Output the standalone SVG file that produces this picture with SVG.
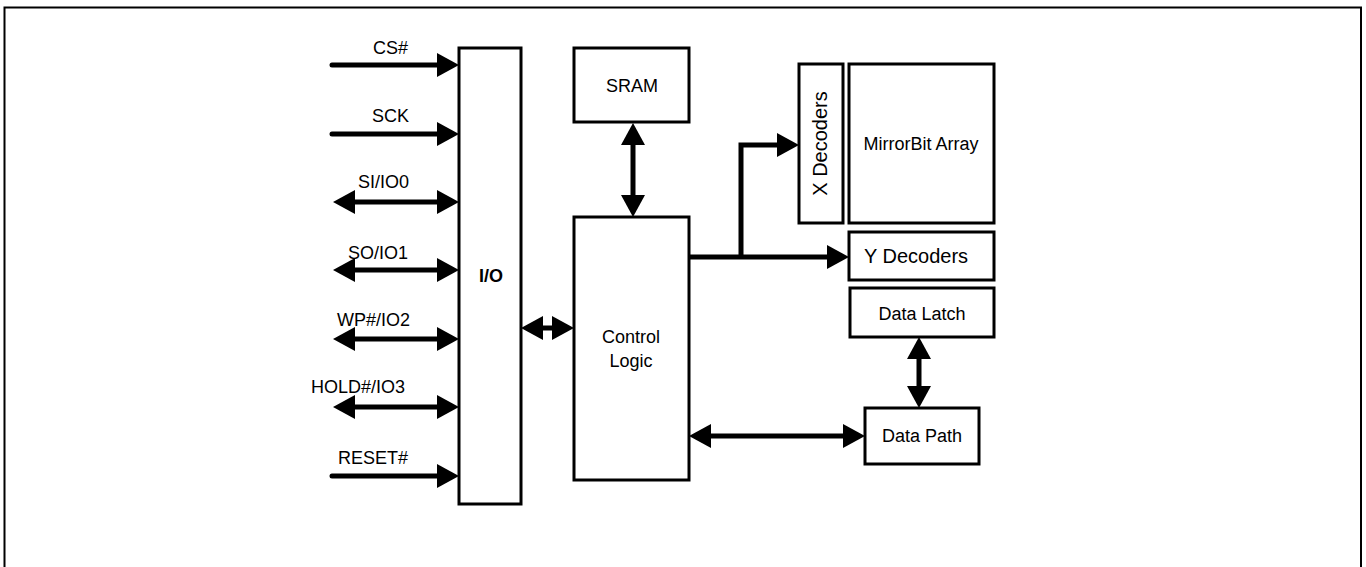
<svg xmlns="http://www.w3.org/2000/svg" width="1366" height="567" viewBox="0 0 1366 567">
<style>
.box{fill:#fff;stroke:#000;stroke-width:3}
.t{font-family:"Liberation Sans",Arial,sans-serif;font-size:18px;fill:#000}
.m{text-anchor:middle}
.big{font-size:20px}
.b{font-weight:bold}
.w{fill:none;stroke:#000;stroke-width:5}
.rc{stroke-linecap:round}
</style>
<defs>
<marker id="ah" markerUnits="userSpaceOnUse" markerWidth="22" markerHeight="24" viewBox="0 0 22 24" refX="12" refY="12" orient="auto-start-reverse">
<path d="M0,0 L22,12 L0,24 Z" fill="#000"/>
</marker>
</defs>
<rect x="4.5" y="7.5" width="1356.5" height="600" fill="none" stroke="#000" stroke-width="2"/>
<g id="connectors">
<path class="w rc" d="M332,65 H449" marker-end="url(#ah)"/>
<path class="w rc" d="M332,134 H449" marker-end="url(#ah)"/>
<path class="w" d="M343,202 H449" marker-start="url(#ah)" marker-end="url(#ah)"/>
<path class="w" d="M343,270 H449" marker-start="url(#ah)" marker-end="url(#ah)"/>
<path class="w" d="M343,339 H449" marker-start="url(#ah)" marker-end="url(#ah)"/>
<path class="w" d="M343,407 H449" marker-start="url(#ah)" marker-end="url(#ah)"/>
<path class="w rc" d="M332,476 H449" marker-end="url(#ah)"/>
<path class="w" d="M531,328 H564" marker-start="url(#ah)" marker-end="url(#ah)"/>
<path class="w" d="M633,133 V207" marker-start="url(#ah)" marker-end="url(#ah)"/>
<path class="w" d="M689,257 H839" marker-end="url(#ah)"/>
<path class="w" d="M741,257 V145 H789" marker-end="url(#ah)"/>
<path class="w" d="M919,347 V398" marker-start="url(#ah)" marker-end="url(#ah)"/>
<path class="w" d="M699,436 H855" marker-start="url(#ah)" marker-end="url(#ah)"/>
</g>
<g id="labels">
<text class="t" x="373" y="54">CS#</text>
<text class="t" x="372" y="122">SCK</text>
<text class="t" x="358" y="188">SI/IO0</text>
<text class="t" x="348" y="259">SO/IO1</text>
<text class="t" x="337" y="326">WP#/IO2</text>
<text class="t" x="311" y="393">HOLD#/IO3</text>
<text class="t" x="338" y="464">RESET#</text>
</g>
<g id="io"><rect class="box" x="459" y="48" width="62" height="456"/><text class="t b m" x="491" y="282">I/O</text></g>
<g id="sram"><rect class="box" x="574" y="48" width="115" height="74"/><text class="t m" x="632" y="92">SRAM</text></g>
<g id="control"><rect class="box" x="574" y="217" width="115" height="263"/><text class="t m" x="631" y="343">Control</text><text class="t m" x="631" y="367">Logic</text></g>
<g id="xdec"><rect class="box" x="799" y="64" width="44" height="159"/><text class="t big m" transform="translate(827,143.5) rotate(-90)">X Decoders</text></g>
<g id="array"><rect class="box" x="849" y="64" width="145" height="159"/><text class="t m" x="921" y="150">MirrorBit Array</text></g>
<g id="ydec"><rect class="box" x="849" y="232" width="145" height="48"/><text class="t big m" x="916" y="263">Y Decoders</text></g>
<g id="latch"><rect class="box" x="850" y="288" width="144" height="49"/><text class="t m" x="922" y="320">Data Latch</text></g>
<g id="path"><rect class="box" x="865" y="408" width="114" height="56"/><text class="t m" x="922" y="442">Data Path</text></g>
</svg>
